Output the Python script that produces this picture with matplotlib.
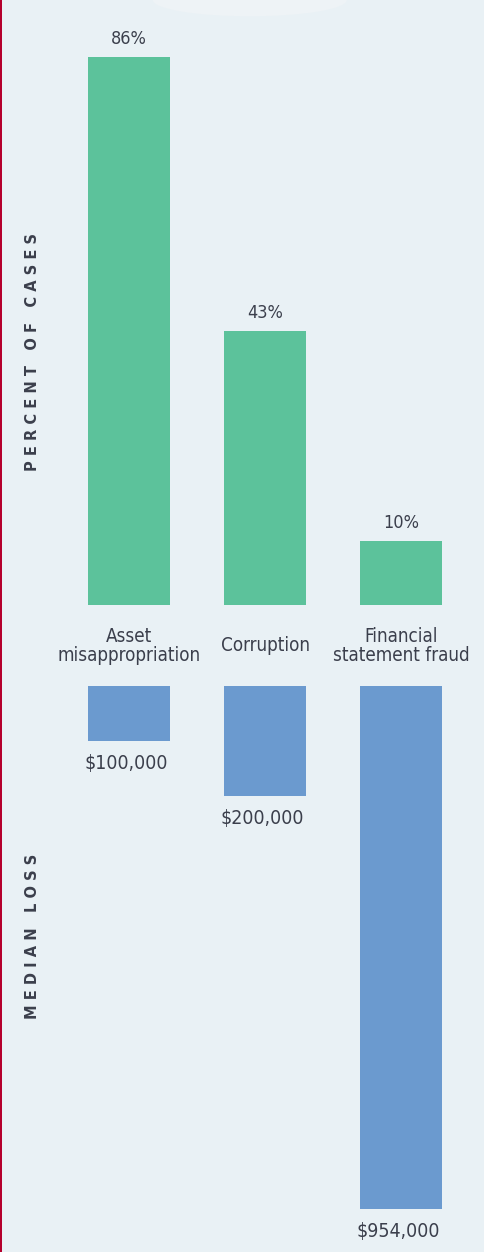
import matplotlib.pyplot as plt
from matplotlib.patches import Ellipse, Rectangle

# data
categories = ["Asset\nmisappropriation", "Corruption", "Financial\nstatement fraud"]
pct_cases = [86, 43, 10]
median_loss = [100000, 200000, 954000]

bg = "#e9f1f5"
green = "#5cc29b"
blue = "#6b9acf"
txt = "#3b3f4c"
font = dict(family="DejaVu Sans", fontstretch="condensed")

fig = plt.figure(figsize=(4.85, 12.52), dpi=100, facecolor=bg)

x = list(range(len(categories)))
xlim = (-0.949, 2.618)
w = 0.60

# top panel: percent of cases
ax1 = fig.add_axes([0, 0.5168, 1, 0.4377])
ax1.bar(x, pct_cases, width=w, color=green)
ax1.set_xlim(*xlim)
ax1.set_ylim(0, max(pct_cases))
for xi, v in zip(x, pct_cases):
    ax1.annotate(f"{v}%", (xi, v), xytext=(0, 13), textcoords="offset points",
                 ha="center", va="center", fontsize=13, color=txt,
                 annotation_clip=False, **font)
for xi, c in zip(x, categories):
    ax1.annotate(c, (xi, 0), xytext=(0, -29.5), textcoords="offset points",
                 ha="center", va="center", fontsize=13.5, color=txt,
                 linespacing=0.98, annotation_clip=False, **font)

# bottom panel: median loss
ax2 = fig.add_axes([0, 0.0343, 1, 0.4177])
ax2.bar(x, median_loss, width=w, color=blue)
ax2.set_xlim(*xlim)
ax2.set_ylim(max(median_loss), 0)
for xi, v in zip(x, median_loss):
    ax2.annotate(f"${v:,}", (xi, v), xytext=(-2, -16.5), textcoords="offset points",
                 ha="center", va="center", fontsize=14, color=txt,
                 annotation_clip=False, **font)

for ax in (ax1, ax2):
    ax.set_facecolor("none")
    ax.axis("off")

# side labels with wide tracking
def spaced(s):
    return "   ".join(" ".join(word) for word in s.split())

fig.text(0.068, 1 - 352 / 1252, spaced("PERCENT OF CASES"), rotation=90,
         ha="center", va="center", fontsize=10.5, fontweight="semibold", color=txt)
fig.text(0.068, 1 - 936 / 1252, spaced("MEDIAN LOSS"), rotation=90,
         ha="center", va="center", fontsize=10.5, fontweight="semibold", color=txt)

# top banner remnant and red edge
fig.patches.append(Ellipse((0.515, 1.0), 0.40, 0.026, transform=fig.transFigure,
                           facecolor="#eef3f6", edgecolor="none", zorder=0))
fig.patches.append(Rectangle((0, 0), 0.005, 1, transform=fig.transFigure,
                             facecolor="#b5002d", edgecolor="none"))

plt.savefig("out.png", dpi=100, facecolor=bg)
plt.close()
